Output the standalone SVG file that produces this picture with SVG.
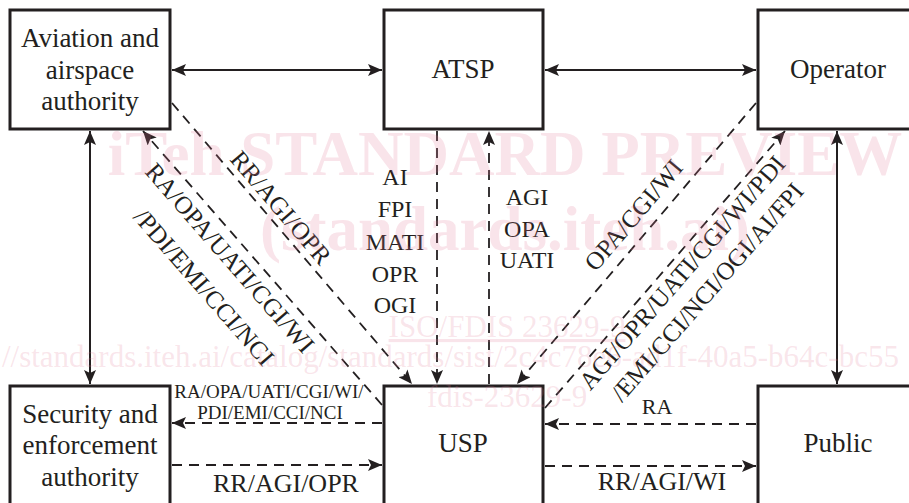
<svg xmlns="http://www.w3.org/2000/svg" width="909" height="503" viewBox="0 0 909 503">
<style>
.wm{font-family:"Liberation Serif",serif;fill:#e07a98;fill-opacity:0.2}
.wmb{font-weight:bold;font-size:63px}
.wms{font-size:31px}
.box{fill:#fff;stroke:#231f20;stroke-width:3}
.t{font-family:"Liberation Serif",serif;fill:#231f20;text-anchor:middle}
.n{font-size:27px}
.l{font-size:24px}
.d{font-size:25px}
.b{font-size:26px}
.s{font-size:19px}
.sol{stroke:#231f20;stroke-width:2;fill:none}
.dash{stroke:#231f20;stroke-width:1.8;fill:none;stroke-dasharray:10 7}
</style>
<defs>
<marker id="ah" markerUnits="userSpaceOnUse" markerWidth="14" markerHeight="12" refX="14" refY="6" orient="auto-start-reverse" viewBox="0 0 14 12">
<path d="M0,0 L14,6 L0,12 L3,6 z" fill="#231f20"/>
</marker>
</defs>
<rect width="909" height="503" fill="#fff"/>
<g id="connectors">
<line class="sol" x1="172" y1="70" x2="382" y2="70" marker-start="url(#ah)" marker-end="url(#ah)"/>
<line class="sol" x1="545" y1="70" x2="756" y2="70" marker-start="url(#ah)" marker-end="url(#ah)"/>
<line class="sol" x1="90" y1="131" x2="90" y2="384" marker-start="url(#ah)" marker-end="url(#ah)"/>
<line class="sol" x1="837" y1="131" x2="837" y2="384" marker-start="url(#ah)" marker-end="url(#ah)"/>
<line class="dash" x1="437" y1="131" x2="437" y2="384" marker-end="url(#ah)"/>
<line class="dash" x1="489" y1="384" x2="489" y2="131" marker-end="url(#ah)"/>
<line class="dash" x1="172" y1="103" x2="412" y2="384" marker-end="url(#ah)"/>
<line class="dash" x1="382" y1="405" x2="143" y2="131" marker-end="url(#ah)"/>
<line class="dash" x1="756" y1="103" x2="517" y2="384" marker-end="url(#ah)"/>
<line class="dash" x1="545" y1="408" x2="785" y2="131" marker-end="url(#ah)"/>
<line class="dash" x1="382" y1="423" x2="172" y2="423" marker-end="url(#ah)"/>
<line class="dash" x1="172" y1="465" x2="382" y2="465" marker-end="url(#ah)"/>
<line class="dash" x1="756" y1="424" x2="545" y2="424" marker-end="url(#ah)"/>
<line class="dash" x1="545" y1="466" x2="756" y2="466" marker-end="url(#ah)"/>
<text class="t l" x="395" y="185">AI</text>
<text class="t l" x="395" y="217">FPI</text>
<text class="t l" x="395" y="250">MATI</text>
<text class="t l" x="395" y="282">OPR</text>
<text class="t l" x="395" y="313">OGI</text>
<text class="t l" x="527" y="205">AGI</text>
<text class="t l" x="527" y="237">OPA</text>
<text class="t l" x="527" y="268">UATI</text>
<text class="t d" transform="translate(274.5,213) rotate(49.5)">RR/AGI/OPR</text>
<text class="t d" transform="translate(223.6,263.6) rotate(48.9)">RA/OPA/UATI/CGI/WI</text>
<text class="t d" transform="translate(197.6,292.6) rotate(48.9)">/PDI/EMI/CCI/NCI</text>
<text class="t d" transform="translate(640,220.5) rotate(-49.6)">OPA/CGI/WI</text>
<text class="t d" transform="translate(688.5,278) rotate(-49.1)">AGI/OPR/UATI/CGI/WI/PDI</text>
<text class="t d" transform="translate(713.5,297.5) rotate(-49.1)">/EMI/CCI/NCI/OGI/AI/FPI</text>
<text class="t s" x="269" y="398">RA/OPA/UATI/CGI/WI/</text>
<text class="t s" x="270" y="419">PDI/EMI/CCI/NCI</text>
<text class="t b" x="286" y="492">RR/AGI/OPR</text>
<text class="t" style="font-size:22px" x="657" y="414">RA</text>
<text class="t b" x="662" y="490">RR/AGI/WI</text>
</g>
<g id="aviation">
<rect class="box" x="10" y="10" width="160" height="119"/>
<text class="t n" x="90" y="47">Aviation and</text>
<text class="t n" x="90" y="79">airspace</text>
<text class="t n" x="90" y="110">authority</text>
</g>
<g id="atsp">
<rect class="box" x="384" y="10" width="159" height="119"/>
<text class="t n" x="463" y="78">ATSP</text>
</g>
<g id="operator">
<rect class="box" x="758" y="10" width="170" height="119"/>
<text class="t n" x="838" y="78">Operator</text>
</g>
<g id="security">
<rect class="box" x="10" y="386" width="160" height="130"/>
<text class="t n" x="90" y="423">Security and</text>
<text class="t n" x="90" y="454">enforcement</text>
<text class="t n" x="90" y="486">authority</text>
</g>
<g id="usp">
<rect class="box" x="384" y="386" width="159" height="130"/>
<text class="t n" x="463" y="452">USP</text>
</g>
<g id="public">
<rect class="box" x="758" y="386" width="170" height="130"/>
<text class="t n" x="838" y="452">Public</text>
</g>
<g id="watermark">
<text class="wm wmb" x="505" y="175" text-anchor="middle">iTeh STANDARD PREVIEW</text>
<text class="wm wmb" x="505" y="250" text-anchor="middle">(standards.iteh.ai)</text>
<text class="wm wms" x="507" y="337" text-anchor="middle" text-decoration="underline">ISO/FDIS 23629-9</text>
<text class="wm wms" x="-67" y="367">https://standards.iteh.ai/catalog/standards/sist/2c4c78e6-ad1f-40a5-b64c-bc55</text>
<text class="wm wms" x="427" y="407">fdis-23629-9</text>
</g>
</svg>
